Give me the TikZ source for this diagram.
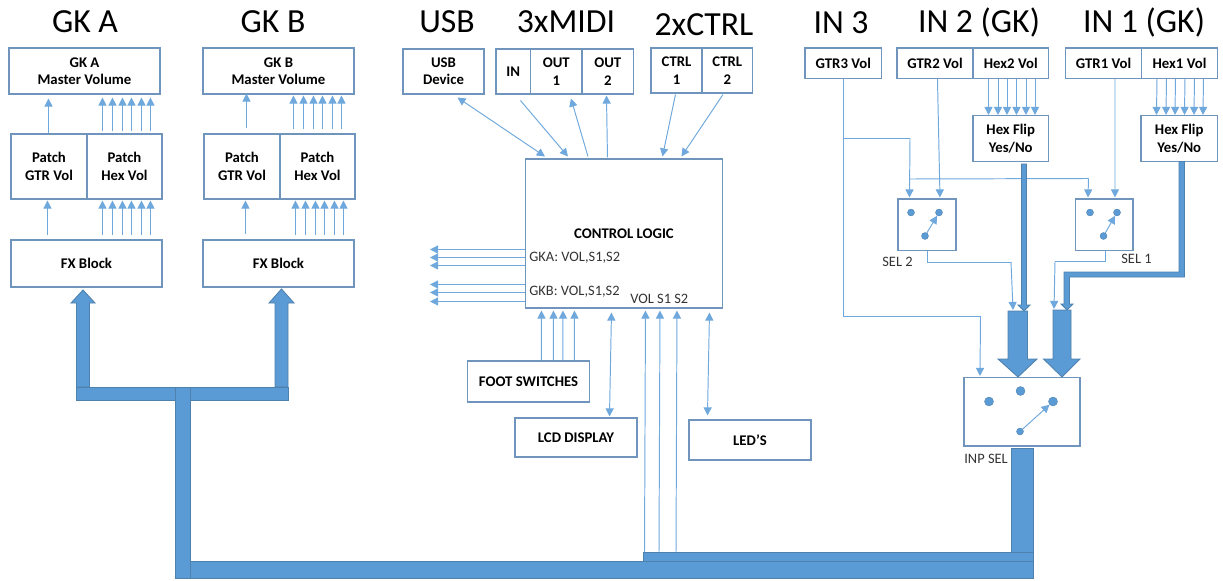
\documentclass[tikz,border=0pt]{standalone}
\usepackage{fontspec}
\setmainfont{Carlito}
\usetikzlibrary{arrows.meta}
\definecolor{busblue}{HTML}{5B9BD5}
\definecolor{busedge}{HTML}{4F81AD}
\definecolor{boxedge}{HTML}{6F95BC}
\definecolor{sigblue}{HTML}{6FA8DC}
\tikzset{
  block/.style 2 args={draw=boxedge,line width=.6pt,inner sep=0pt,align=center,
    minimum width=#1*.02cm,minimum height=#2*.02cm,
    font=\fontsize{8.4}{9.9}\selectfont\bfseries},
  title/.style={inner sep=0pt,font=\fontsize{19.2}{21}\selectfont},
  tag/.style={inner sep=0pt,text=black!80,font=\fontsize{8.2}{10}\selectfont},
  sig/.style={draw=sigblue,line width=.55pt,-{Triangle[width=4.6pt,length=4.6pt]}},
  sigboth/.style={draw=sigblue,line width=.55pt,{Triangle[width=4.6pt,length=4.6pt]}-{Triangle[width=4.6pt,length=4.6pt]}},
  wire/.style={draw=sigblue,line width=.55pt},
  bus/.style={fill=busblue,draw=busedge,line width=.5pt},
  swdot/.style={circle,fill=busblue,draw=busedge,line width=.2pt,inner sep=0pt,minimum size=#1*.02cm}
}
\begin{document}
\begin{tikzpicture}[x=.02cm,y=-.02cm]
  \useasboundingbox (0,0) rectangle (1223,581);

  \node [title] (tgka) at (85,22) {GK A};
  \node [title] (tgkb) at (273,22) {GK B};
  \node [title] (tusb) at (447,22) {USB};
  \node [title] (tmidi) at (566,22) {3xMIDI};
  \node [title] (tctrl) at (704,25) {2xCTRL};
  \node [title] (tinc) at (841,23) {IN 3};
  \node [title] (tinb) at (979,23) {IN 2 (GK)};
  \node [title] (tina) at (1144,23) {IN 1 (GK)};

  \node [block={151}{46}] (mastera) at (84.5,71) {GK A\\Master Volume};
  \node [block={151}{46}] (masterb) at (278.5,71) {GK B\\Master Volume};
  \node [block={76}{65}] (gtra) at (49,166.5) {Patch\\GTR Vol};
  \node [block={75}{65}] (hexa) at (124.5,166.5) {Patch\\Hex Vol};
  \node [block={76}{65}] (gtrb) at (242,166.5) {Patch\\GTR Vol};
  \node [block={75}{65}] (hexb) at (317.5,166.5) {Patch\\Hex Vol};
  \node [block={151}{47}] (fxa) at (86.5,263.5) {FX Block};
  \node [block={151}{47}] (fxb) at (278.5,263.5) {FX Block};

  \draw [sig] ([shift={(38,0)}]gtra.north west) -- ([shift={(40,4)}]mastera.south west);
  \draw [sig] ([shift={(37,-4)}]fxa.north west) -- ([shift={(37,1)}]gtra.south west);
  \draw [sig] ([shift={(43,-5)}]gtrb.north west) -- ([shift={(44,-1)}]masterb.south west);
  \draw [sig] ([shift={(43,-5)}]fxb.north west) -- ([shift={(42,1)}]gtrb.south west);
  \foreach \x in {16,26,36,45,55,64} {
    \draw [sig] ([shift={(\x,-2)}]hexa.north west) -- ([shift={(\x+78,3)}]mastera.south west);
    \draw [sig] ([shift={(\x+76,-4)}]fxa.north west) -- ([shift={(\x,1)}]hexa.south west);
    \draw [sig] ([shift={(\x-2,-4)}]hexb.north west) -- ([shift={(\x+75,1)}]masterb.south west);
    \draw [sig] ([shift={(\x+77,-4)}]fxb.north west) -- ([shift={(\x,1)}]hexb.south west);
  }

  \node [block={81}{45}] (usbdev) at (443.5,71.5) {USB\\Device};
  \node [block={34.5}{45}] (midiin) at (513.25,71.5) {IN};
  \node [block={51.5}{45}] (midia) at (556.25,71.5) {OUT\\1};
  \node [block={51.5}{45}] (midib) at (607.75,71.5) {OUT\\2};
  \node [block={51}{45}] (ctrla) at (676.5,70.5) {CTRL\\1};
  \node [block={50.5}{45}] (ctrlb) at (727.25,70.5) {CTRL\\2};
  \node [block={197}{149}] (logic) at (624,233.5) {};
  \node [block={1}{1},draw=none] (logiclab) at (624,234) {CONTROL LOGIC};
  \node [tag,anchor=west] (gkalab) at (529,258) {GKA: VOL,S1,S2};
  \node [tag,anchor=west] (gkblab) at (529,292) {GKB: VOL,S1,S2};
  \node [tag,anchor=west] (vollab) at (630,299) {VOL S1 S2};
  \node [block={122}{41}] (foot) at (528.5,381.5) {FOOT SWITCHES};
  \node [block={122}{39}] (lcd) at (576,437.5) {LCD DISPLAY};
  \node [block={122}{40}] (leds) at (750,440) {LED'S};

  \draw [sigboth] ([shift={(55,3)}]usbdev.south west) -- ([shift={(20,-2)}]logic.north west);
  \draw [sig] ([shift={(25,6)}]midiin.south west) -- ([shift={(43,-2)}]logic.north west);
  \draw [sig] ([shift={(63,-2)}]logic.north west) -- ([shift={(41,4)}]midia.south west);
  \draw [sig] ([shift={(82.5,-1)}]logic.north west) -- ([shift={(25,1)}]midib.south west);
  \draw [sig] ([shift={(25,1)}]ctrla.south west) -- ([shift={(137.5,-2)}]logic.north west);
  \draw [sig] ([shift={(21.5,1)}]ctrlb.south west) -- ([shift={(156.5,-2)}]logic.north west);
  \foreach \y in {91,99,107,126,134,143}
    \draw [sig] ([shift={(0,\y)}]logic.north west) -- ([shift={(-95,\y)}]logic.north west);
  \foreach \x in {74.5,86.5,96,107.5}
    \draw [sig] ([shift={(\x,0)}]foot.north west) -- ([shift={(\x-58,2)}]logic.south west);
  \draw [sigboth] ([shift={(86.5,4)}]logic.south west) -- ([shift={(95,-1)}]lcd.north west);
  \draw [sigboth] ([shift={(184.5,4)}]logic.south west) -- ([shift={(19,-4)}]leds.north west);

  \node [block={76.5}{30.5}] (gtrc) at (843.25,63.25) {GTR3 Vol};
  \node [block={76}{30.5}] (gtr2) at (935,63.25) {GTR2 Vol};
  \node [block={75.5}{30.5}] (hex2) at (1010.75,63.25) {Hex2 Vol};
  \node [block={76}{30.5}] (gtr1) at (1103.5,63.25) {GTR1 Vol};
  \node [block={76}{30.5}] (hex1) at (1179.5,63.25) {Hex1 Vol};
  \node [block={75.5}{46}] (flip2) at (1010.75,138.5) {Hex Flip\\Yes/No};
  \node [block={76.5}{46}] (flip1) at (1179.25,138.5) {Hex Flip\\Yes/No};
  \foreach \x in {16,25.5,34.5,44,53.5,62.5} {
    \draw [sig] ([shift={(\x,0)}]hex2.south west) -- ([shift={(\x,0)}]flip2.north west);
    \draw [sig] ([shift={(\x,0)}]hex1.south west) -- ([shift={(\x,0)}]flip1.north west);
  }

  \node [block={58}{51.5}] (sel2) at (927,224.75) {};
  \node [block={57.5}{51.5}] (sel1) at (1104.25,224.75) {};
  \node [swdot=7] (sela) at (911,212.5) {};
  \node [swdot=7] (selb) at (939,212.5) {};
  \node [swdot=7] (selc) at (925,236) {};
  \node [swdot=7] (seld) at (1090,212.5) {};
  \node [swdot=7] (sele) at (1117,212.5) {};
  \node [swdot=7] (self) at (1103.5,236) {};
  \draw [sig] (selc) -- (selb);
  \draw [sig] (self) -- (sele);
  \node [tag,anchor=west] (sel2lab) at (882,262) {SEL 2};
  \node [tag,anchor=west] (sel1lab) at (1121,259) {SEL 1};

  \node [block={116}{68.5}] (inpsel) at (1022,411.75) {};
  \node [swdot=9] (inpa) at (989,401.5) {};
  \node [swdot=9] (inpb) at (1020.5,391) {};
  \node [swdot=9] (inpc) at (1053,401.5) {};
  \node [swdot=7] (inpd) at (1020,431.5) {};
  \draw [sig] (inpd) -- (inpc);
  \node [tag,anchor=west] (inplab) at (964,459) {INP SEL};

  \coordinate (jogc) at (843.5,138);
  \coordinate (jogd) at (910,138);
  \coordinate (joge) at (910,179);
  \coordinate (jogf) at (1088.5,178.5);
  \coordinate (jogg) at (980.5,316);
  \coordinate (jogh) at (1011,262);
  \coordinate (jogi) at (1055,261.5);
  \draw [wire] ([shift={(38.5,0)}]gtrc.south west) |- (jogg);
  \draw [sig] (jogg) -- ([shift={(16.5,-1)}]inpsel.north west);
  \draw [wire] (jogc) -- (jogd);
  \draw [sig] (jogd) -- ([shift={(12,-1)}]sel2.north west);
  \draw [wire] (joge) -- (jogf);
  \draw [sig] (jogf) -- ([shift={(13,-1)}]sel1.north west);
  \draw [sig] ([shift={(41,0)}]gtr2.south west) -- ([shift={(42.5,-1)}]sel2.north west);
  \draw [sig] ([shift={(50,0)}]gtr1.south west) -- ([shift={(40,-1)}]sel1.north west);
  \draw [wire] (sel2.south) |- (jogh);
  \draw [sig] (jogh) -- (1013,310);
  \draw [wire] ([shift={(.75,0)}]sel1.south) |- (jogi);
  \draw [sig] (jogi) -- (1054,309);

  \draw [bus] (1021.5,164) -- (1026.5,164) -- (1026.5,305) -- (1030,305) -- (1024,311) -- (1018,305) -- (1021.5,305) -- cycle;
  \draw [bus] (1179,161.5) -- (1184.5,161.5) -- (1184.5,277) -- (1069.5,277) -- (1069.5,304) -- (1073,304) -- (1067,310) -- (1061,304) -- (1064,304) -- (1064,272) -- (1179,272) -- cycle;
  \draw [bus] (1008,311) -- (1027.5,311) -- (1027.5,359) -- (1037,359) -- (1018,377) -- (998,359) -- (1008,359) -- cycle;
  \draw [bus] (1053,310) -- (1071,310) -- (1071,359) -- (1080,359) -- (1062,377) -- (1043.5,359) -- (1053,359) -- cycle;
  \draw [bus] (76.5,387) -- (76.5,303) -- (71,303) -- (83,290) -- (95,303) -- (89.5,303) -- (89.5,387) -- cycle;
  \draw [bus] (275,387) -- (275,303) -- (269,303) -- (281.5,289) -- (294,303) -- (288,303) -- (288,387) -- cycle;
  \draw [bus] (76,387) rectangle (288,400);
  \draw [bus] (1011,448) rectangle (1033,552);
  \draw [bus] (643,552) rectangle (1033,561);
  \draw [bus] (190,561) rectangle (1033,578.5);
  \draw [bus] (175,387) rectangle (190.5,578.5);
  \foreach \a/\b in {1.5/3,16/17.5,33/34.5}
    \draw [sig] (643+\a,552) -- ([shift={(643+\b-525.5,2)}]logic.south west);
\end{tikzpicture}
\end{document}
